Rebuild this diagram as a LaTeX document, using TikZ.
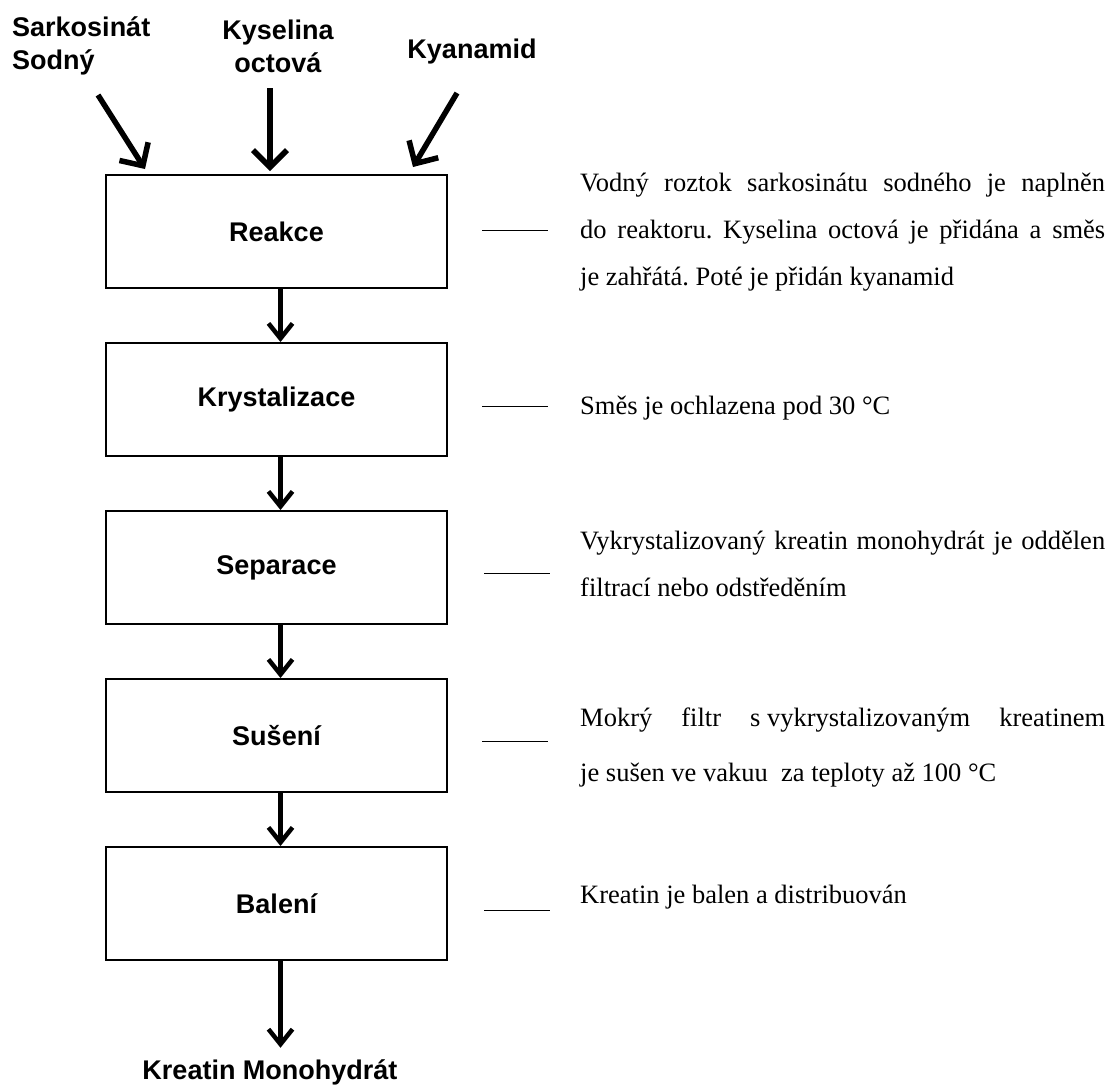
\documentclass[tikz,border=0pt]{standalone}
\usepackage{fontspec}
\setmainfont{Liberation Serif}
\setsansfont{Liberation Sans}
\usetikzlibrary{arrows.meta,positioning}
\tikzset{
    every node/.style={font=\sffamily\bfseries\fontsize{27}{33}\selectfont},
    line/.style={-{Straight Barb[length=15pt,width=24pt]}, line width=4.5pt},
    feed/.style={-{Straight Barb[length=17pt,width=34pt]}, line width=5.5pt},
    process/.style={rectangle, draw, line width=2pt, align=center, minimum width=341pt, minimum height=113pt},
    note/.style={font=\rmfamily\fontsize{26.5}{47}\selectfont, text width=525pt, align=justify, anchor=base west, inner sep=0pt},
    tick/.style={line width=1.8pt}
}

\begin{document}
\frenchspacing
\begin{tikzpicture}[
    x=1pt, y=-1pt,
    node distance=53pt,
]
\useasboundingbox (0,0) rectangle (1118,1088);

\node[process] (A) at (276.5,231.5) {Reakce};
\node[process, below=of A] (B) {Krystalizace};
\node[process, below=of B] (C) {Separace};
\node[process, below=of C] (D) {Sušení};
\node[process, below=of D] (E) {Balení};
\node (F) at (270,1072) {Kreatin Monohydrát};

% vstupy
\node[align=left, anchor=west, inner sep=0pt] (S) at (12,46) {Sarkosinát\\Sodný};
\node[align=center, inner sep=0pt] (K) at (278,46) {Kyselina\\octová};
\node[inner sep=0pt] (N) at (472,52) {Kyanamid};
\coordinate (s1) at (98,95);
\coordinate (k1) at (270,88);
\coordinate (n1) at (457,93);

\draw[feed] (s1) -- ([xshift=-131.5pt, yshift=5pt]A.north);
\draw[feed] (k1) -- ([xshift=-6.5pt, yshift=3pt]A.north);
\draw[feed] (n1) -- ([xshift=136.5pt, yshift=7pt]A.north);

\draw[line] ([xshift=4pt]A.south) -- ([xshift=4pt]B.north);
\draw[line] ([xshift=4pt]B.south) -- ([xshift=4pt]C.north);
\draw[line] ([xshift=4pt]C.south) -- ([xshift=4pt]D.north);
\draw[line] ([xshift=4pt]D.south) -- ([xshift=4pt]E.north);
\draw[line, shorten >=8pt] ([xshift=4pt]E.south) -- ([xshift=4pt]E.south |- F.north);

% popisy
\node[note] (nA) at (580,191) {Vodný roztok sarkosinátu sodného je naplněn\linebreak do reaktoru. Kyselina octová je přidána a směs\linebreak je zahřátá. Poté je přidán kyanamid};
\node[note] (nB) at (580,414) {Směs je ochlazena pod 30 °C};
\node[note] (nC) at (580,549) {Vykrystalizovaný kreatin monohydrát je oddělen\linebreak filtrací nebo odstředěním};
\node[note, font=\rmfamily\fontsize{26.5}{55}\selectfont] (nD) at (580,726) {Mokrý filtr \hbox{s vykrystalizovaným} kreatinem\linebreak je sušen ve vakuu\ \ za teploty až 100 °C};
\node[note] (nE) at (580,903) {Kreatin je balen a distribuován};

\draw[tick] ([xshift=34pt, yshift=1pt]A.east) -- ++(66,0);
\draw[tick] ([xshift=34pt, yshift=-7pt]B.east) -- ++(66,0);
\draw[tick] ([xshift=36pt, yshift=-6pt]C.east) -- ++(66,0);
\draw[tick] ([xshift=34pt, yshift=-6pt]D.east) -- ++(66,0);
\draw[tick] ([xshift=36pt, yshift=-7pt]E.east) -- ++(66,0);

\end{tikzpicture}
\end{document}
